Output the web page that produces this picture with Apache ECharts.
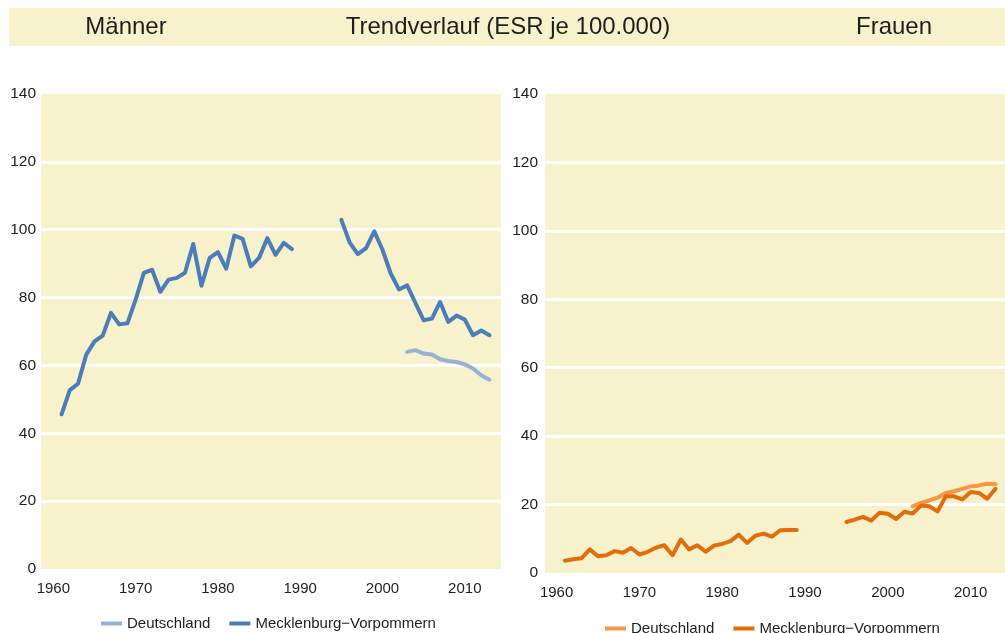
<!DOCTYPE html>
<html>
<head>
<meta charset="utf-8">
<script src="https://cdn.jsdelivr.net/npm/echarts@6/dist/echarts.min.js"></script>
<style>
  html, body { margin: 0; padding: 0; background: #ffffff; }
  #chart { width: 1005px; height: 633px; }
</style>
</head>
<body>
<div id="chart"></div>
<script>
// Years shown on both panels (1961–2013); null marks years without data
const years = [];
for (let y = 1961; y <= 2013; y++) years.push(y);

const xTickLabels = [1960, 1970, 1980, 1990, 2000, 2010];

// Männer, Mecklenburg-Vorpommern (1961–1989, gap 1990–1994, 1995–2013)
const menMV = [
  45.6, 52.7, 54.6, 63.2, 67.1, 68.8, 75.5, 72.1, 72.4, 79.4,
  87.3, 88.2, 81.7, 85.3, 85.8, 87.3, 95.8, 83.5, 91.7, 93.4,
  88.5, 98.3, 97.3, 89.2, 91.7, 97.5, 92.6, 96.1, 94.3,
  null, null, null, null, null,
  102.9, 96.3, 92.8, 94.6, 99.5, 94.1, 87.1, 82.4, 83.6, 78.4,
  73.3, 73.8, 78.7, 72.8, 74.7, 73.5, 68.9, 70.3, 68.9
];

// Männer, Deutschland (2003–2013)
const menDE = [
  null, null, null, null, null, null, null, null, null, null,
  null, null, null, null, null, null, null, null, null, null,
  null, null, null, null, null, null, null, null, null, null,
  null, null, null, null, null, null, null, null, null, null,
  null, null,
  64.0, 64.5, 63.5, 63.2, 61.8, 61.3, 61.0, 60.3, 59.1, 57.1, 55.8
];

// Frauen, Mecklenburg-Vorpommern
const womenMV = [
  3.6, 4.0, 4.3, 6.9, 4.9, 5.2, 6.4, 5.9, 7.3, 5.4,
  6.2, 7.4, 8.1, 5.2, 9.8, 6.9, 8.1, 6.2, 8.0, 8.5,
  9.3, 11.2, 8.8, 10.9, 11.5, 10.6, 12.5, 12.6, 12.6,
  null, null, null, null, null,
  14.9, 15.6, 16.4, 15.3, 17.6, 17.3, 15.8, 17.9, 17.4, 19.7,
  19.5, 18.0, 22.4, 22.4, 21.5, 23.7, 23.4, 21.7, 24.6
];

// Frauen, Deutschland (2003–2013)
const womenDE = [
  null, null, null, null, null, null, null, null, null, null,
  null, null, null, null, null, null, null, null, null, null,
  null, null, null, null, null, null, null, null, null, null,
  null, null, null, null, null, null, null, null, null, null,
  null, null,
  19.5, 20.5, 21.2, 22.0, 23.4, 23.9, 24.6, 25.3, 25.6, 26.1, 26.0
];

const labelDE = 'Deutschland';
const labelMV = 'Mecklenburg\u2212Vorpommern';

const panelBg = '#F7F2CC';
const font = '"Liberation Sans", Arial, sans-serif';
const textColor = '#1e1e1e';

const colors = {
  menMV: '#4A7EBB',
  menDE: '#95B3D7',
  womenMV: '#E46C0A',
  womenDE: '#F79646'
};

function pairs(vals) {
  return years.map((y, i) => [y, vals[i]]);
}

function xAxis(gridIndex, min, max) {
  return {
    type: 'value', gridIndex, min, max,
    axisLine: { show: false },
    axisTick: { show: false },
    splitLine: { show: false },
    axisLabel: {
      customValues: xTickLabels,
      formatter: v => String(v),
      color: textColor, fontFamily: font, fontSize: 15, margin: 12
    }
  };
}

function yAxis(gridIndex, margin) {
  return {
    type: 'value', gridIndex, min: 0, max: 140, interval: 20,
    axisLine: { show: false },
    axisTick: { show: false },
    splitLine: {
      show: true, showMinLine: false, showMaxLine: false,
      lineStyle: { color: '#ffffff', width: 3 }
    },
    axisLabel: { color: textColor, fontFamily: font, fontSize: 15.5, margin }
  };
}

function line(name, vals, color, axisIndex) {
  return {
    name, type: 'line',
    xAxisIndex: axisIndex, yAxisIndex: axisIndex,
    data: pairs(vals),
    showSymbol: false, symbol: 'none',
    connectNulls: false,
    lineStyle: { color, width: 4, join: 'round', cap: 'round' },
    itemStyle: { color },
    emphasis: { disabled: true },
    animation: false
  };
}

function legend(left, top, cDE, cMV) {
  return {
    left, top, padding: 0,
    icon: 'rect', itemWidth: 21, itemHeight: 4, itemGap: 19,
    textStyle: { color: textColor, fontFamily: font, fontSize: 15 },
    selectedMode: false,
    data: [
      { name: labelDE, itemStyle: { color: cDE } },
      { name: labelMV, itemStyle: { color: cMV } }
    ]
  };
}

const chart = echarts.init(document.getElementById('chart'), null, { renderer: 'canvas' });

chart.setOption({
  backgroundColor: '#ffffff',
  animation: false,
  grid: [
    { left: 41, top: 94, width: 460, height: 475, show: true, backgroundColor: panelBg, borderWidth: 0 },
    { left: 545, top: 94, width: 460, height: 479, show: true, backgroundColor: panelBg, borderWidth: 0 }
  ],
  xAxis: [ xAxis(0, 1958.5, 2014.4), xAxis(1, 1958.6, 2014.15) ],
  yAxis: [ yAxis(0, 5), yAxis(1, 7) ],
  legend: [
    legend(101, 616, colors.menDE, colors.menMV),
    legend(605, 621, colors.womenDE, colors.womenMV)
  ],
  graphic: [
    { type: 'rect', shape: { x: 9, y: 8, width: 996, height: 38 }, style: { fill: panelBg }, silent: true },
    { type: 'text', x: 126, y: 27, style: { text: 'Männer', fill: textColor, font: '24px ' + font, textAlign: 'center', textVerticalAlign: 'middle' } },
    { type: 'text', x: 508, y: 27, style: { text: 'Trendverlauf (ESR je 100.000)', fill: textColor, font: '24px ' + font, textAlign: 'center', textVerticalAlign: 'middle' } },
    { type: 'text', x: 894, y: 27, style: { text: 'Frauen', fill: textColor, font: '24px ' + font, textAlign: 'center', textVerticalAlign: 'middle' } }
  ],
  series: [
    line(labelDE, menDE, colors.menDE, 0),
    line(labelMV, menMV, colors.menMV, 0),
    line(labelDE, womenDE, colors.womenDE, 1),
    line(labelMV, womenMV, colors.womenMV, 1)
  ]
});
</script>
</body>
</html>
